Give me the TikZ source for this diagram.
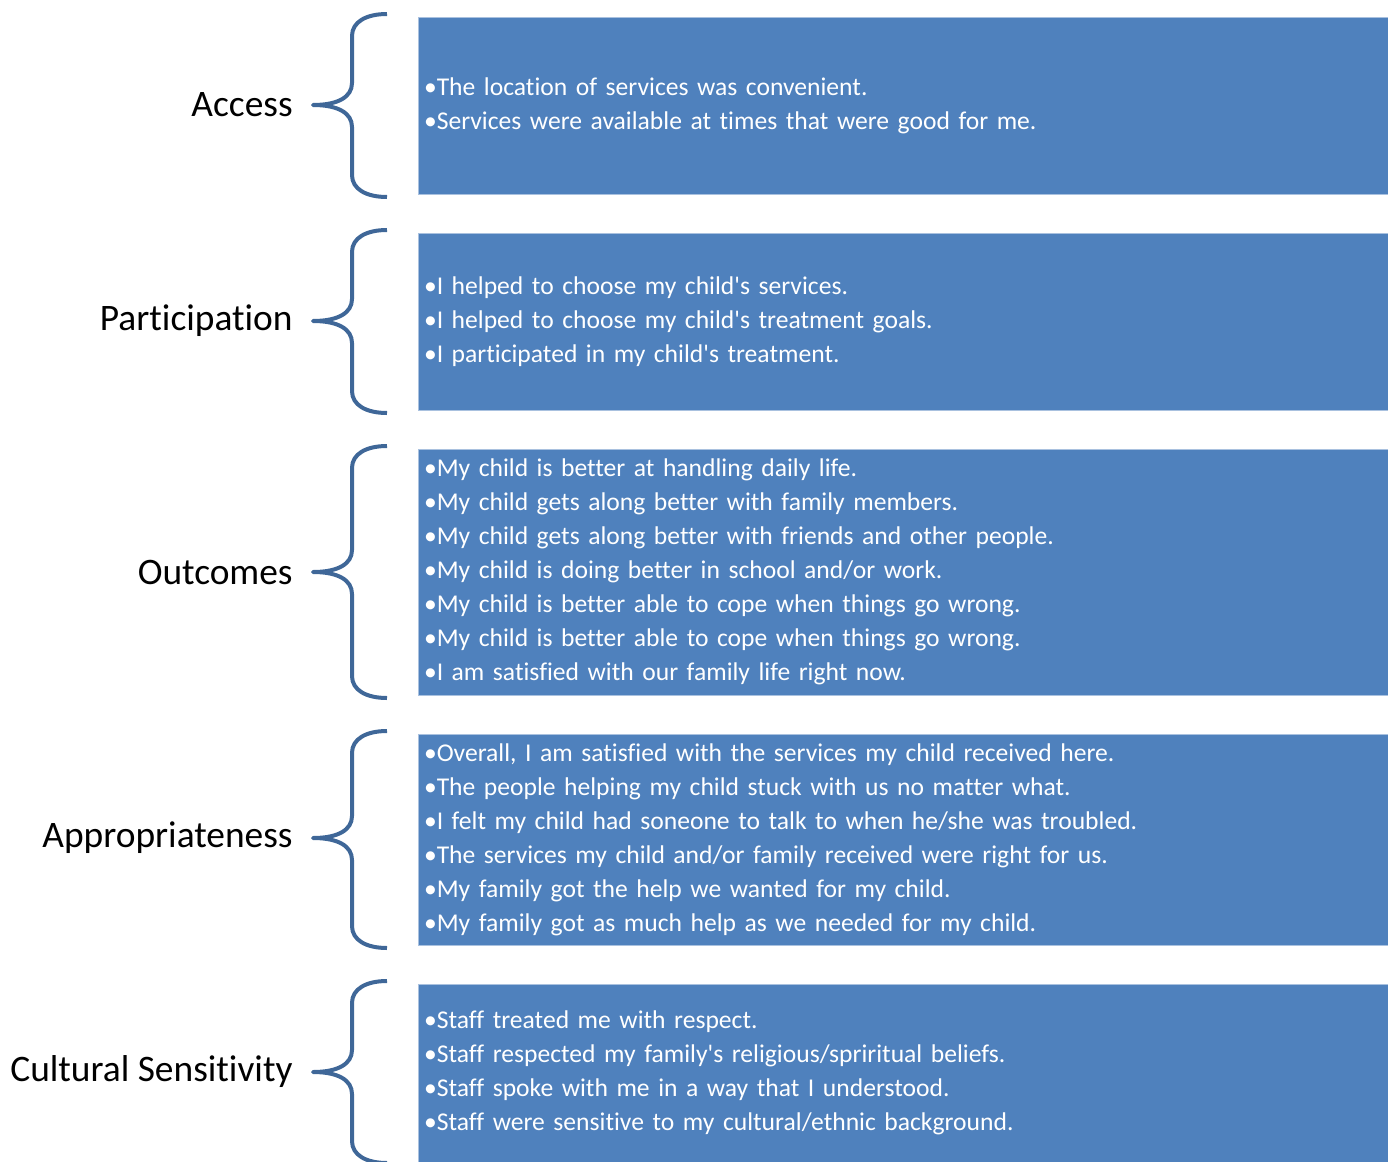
\documentclass[tikz,border=0pt]{standalone}
\usepackage{fontspec}
\setmainfont{Carlito}[Ligatures={TeXOff,CommonOff}]
\usepackage{xcolor}
\usetikzlibrary{positioning}
\definecolor{boxblue}{HTML}{4F81BD}
\definecolor{boxedge}{HTML}{A9C1DF}
\definecolor{bracecol}{RGB}{63,103,152}
\tikzset{
  itembox/.style={rectangle, fill=boxblue, draw=boxedge, line width=0.4pt, minimum width=485pt, text width=479pt, inner xsep=3pt, align=left, text=white, font={\fontsize{12.8}{17}\selectfont}},
  grouplabel/.style={anchor=east, inner sep=0pt, font={\fontsize{18.7}{21}\selectfont}},
  bracket/.style={draw=bracecol, line width=2pt, line join=round}
}
\newcommand{\bracepath}[3]{% top, tip, bottom (pixel rows)
  \draw[bracket] (387,#1) .. controls (366,#1) and (352,#1+8) .. (352,#1+22) -- (352,#2-22)
    .. controls (352,#2-8) and (338,#2) .. (313,#2)
    .. controls (338,#2) and (352,#2+8) .. (352,#2+22) -- (352,#3-22)
    .. controls (352,#3-8) and (366,#3) .. (387,#3);}
\begin{document}
\begin{tikzpicture}[x=0.5pt, y=-0.5pt]
						\useasboundingbox (0,0) rectangle (1388,1162);
						% boxes
						\node[itembox, minimum height=88.5pt] (accbox) at (903,105.5) {%
							•The location of services was convenient.\\
							•Services were available at times that were good for me.};
						\node[itembox, minimum height=88.5pt] (partbox) at (903,321.5) {%
							•I helped to choose my child's services.\\
							•I helped to choose my child's treatment goals.\\
							•I participated in my child's treatment.};
						\node[itembox, minimum height=123pt] (outbox) at (903,572) {%
							•My child is better at handling daily life.\\
							•My child gets along better with family members.\\
							•My child gets along better with friends and other people.\\
							•My child is doing better in school and/or work.\\
							•My child is better able to cope when things go wrong.\\
							•My child is better able to cope when things go wrong.\\
							•I am satisfied with our family life right now.};
						\node[itembox, minimum height=105.5pt] (appbox) at (903,839.5) {%
							•Overall, I am satisfied with the services my child received here.\\
							•The people helping my child stuck with us no matter what.\\
							•I felt my child had soneone to talk to when he/she was troubled.\\
							•The services my child and/or family received were right for us.\\
							•My family got the help we wanted for my child.\\
							•My family got as much help as we needed for my child.};
						\node[itembox, minimum height=89pt] (cultbox) at (903,1073) {%
							•Staff treated me with respect.\\
							•Staff respected my family's religious/spriritual beliefs.\\
							•Staff spoke with me in a way that I understood.\\
							•Staff were sensitive to my cultural/ethnic background.};
						% braces
						\bracepath{14}{105}{197}
						\bracepath{230}{321}{413}
						\bracepath{446}{572}{698}
						\bracepath{731}{838}{948}
						\bracepath{981}{1072}{1163}
						% labels
						\node[grouplabel] (access) at (293,105) {Access};
						\node[grouplabel] (particip) at (293,321) {Participation};
						\node[grouplabel] (outcomes) at (293,572) {Outcomes};
						\node[grouplabel] (approp) at (293,838) {Appropriateness};
						\node[grouplabel] (cultural) at (293,1072) {Cultural Sensitivity};
					\end{tikzpicture}
\end{document}
